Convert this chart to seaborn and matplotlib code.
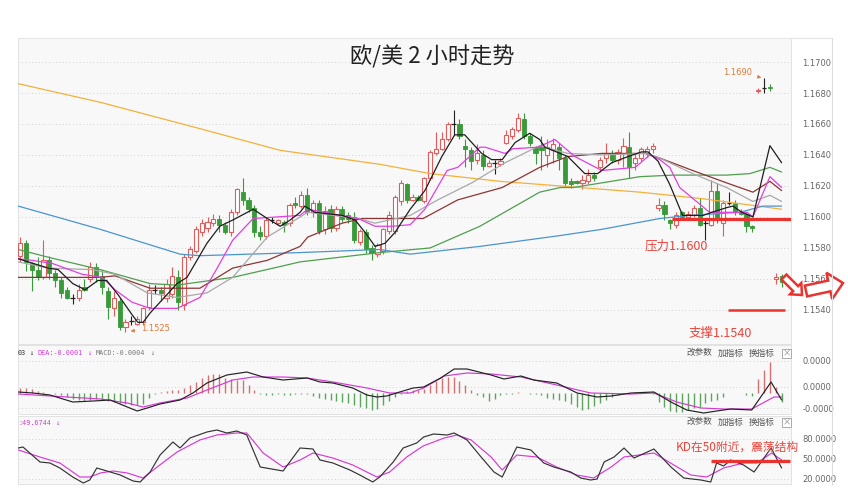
import numpy as np
import pandas as pd
import matplotlib
matplotlib.use("Agg")
import matplotlib.pyplot as plt
from matplotlib.patches import FancyArrow, Rectangle
import seaborn as sns

sns.set_theme(style="white")
plt.rcParams['font.family'] = ['Noto Sans CJK SC', 'DejaVu Sans']
plt.rcParams['axes.unicode_minus'] = False

# ---- candles (2h EUR/USD) ----
opens = [1.1575, 1.1583, 1.1570, 1.1566, 1.1561, 1.1572, 1.1564, 1.1559, 1.1553, 1.1548,
         1.1548, 1.1555, 1.1560, 1.1568, 1.1562, 1.1552, 1.1541, 1.1546, 1.1529, 1.1533,
         1.1531, 1.1532, 1.1542, 1.1553, 1.1553, 1.1548, 1.1550, 1.1561, 1.1543, 1.1574,
         1.1578, 1.1590, 1.1593, 1.1596, 1.1599, 1.1595, 1.1590, 1.1603, 1.1616, 1.1611,
         1.1606, 1.1590, 1.1588, 1.1598, 1.1596, 1.1597, 1.1596, 1.1609, 1.1607, 1.1614,
         1.1603, 1.1609, 1.1592, 1.1605, 1.1593, 1.1605, 1.1601, 1.1600, 1.1584, 1.1590,
         1.1580, 1.1576, 1.1578, 1.1591, 1.1591, 1.1610, 1.1621, 1.1611, 1.1613, 1.1610,
         1.1625, 1.1641, 1.1644, 1.1650, 1.1660, 1.1660, 1.1646, 1.1643, 1.1637, 1.1640,
         1.1633, 1.1635, 1.1634, 1.1648, 1.1652, 1.1656, 1.1663, 1.1652, 1.1645, 1.1645,
         1.1640, 1.1643, 1.1645, 1.1638, 1.1623, 1.1623, 1.1622, 1.1623, 1.1627, 1.1632,
         1.1638, 1.1641, 1.1637, 1.1641, 1.1645, 1.1635, 1.1638, 1.1641, 1.1644, 1.1606,
         1.1608, 1.1598, 1.1595, 1.1603, 1.1600, 1.1601, 1.1606, 1.1596, 1.1595, 1.1617,
         1.1596, 1.1609, 1.1609, 1.1603, 1.1602, 1.1594, 1.1681, 1.1683, 1.1684, 1.1560,
         1.1562]
closes = [1.1583, 1.1571, 1.1566, 1.1561, 1.1572, 1.1564, 1.1559, 1.1551, 1.1548, 1.1548,
          1.1553, 1.1553, 1.1568, 1.1562, 1.1555, 1.1542, 1.1548, 1.1529, 1.1532, 1.1533,
          1.1534, 1.1541, 1.1553, 1.1553, 1.1551, 1.1557, 1.1562, 1.1545, 1.1574, 1.1579,
          1.1592, 1.1596, 1.1597, 1.1599, 1.1595, 1.1590, 1.1603, 1.1618, 1.1611, 1.1605,
          1.1590, 1.1588, 1.1598, 1.1598, 1.1598, 1.1595, 1.1608, 1.1608, 1.1614, 1.1603,
          1.1609, 1.1591, 1.1604, 1.1593, 1.1605, 1.1599, 1.1599, 1.1585, 1.1591, 1.1579,
          1.1577, 1.1582, 1.1592, 1.1601, 1.1613, 1.1622, 1.1611, 1.1613, 1.1611, 1.1625,
          1.1642, 1.1644, 1.1650, 1.1660, 1.1660, 1.1652, 1.1644, 1.1636, 1.1641, 1.1633,
          1.1635, 1.1635, 1.1636, 1.1653, 1.1657, 1.1664, 1.1652, 1.1648, 1.1641, 1.1643,
          1.1645, 1.1647, 1.1638, 1.1622, 1.1621, 1.1622, 1.1624, 1.1627, 1.1625, 1.1637,
          1.1641, 1.1637, 1.1642, 1.1646, 1.1632, 1.1638, 1.1644, 1.1644, 1.1646, 1.1608,
          1.1602, 1.1596, 1.1601, 1.1600, 1.1602, 1.1606, 1.1595, 1.1596, 1.1617, 1.1598,
          1.1609, 1.1609, 1.1603, 1.1602, 1.1594, 1.1593, 1.1682, 1.1683, 1.1683, 1.1561,
          1.1558]
highs = [1.1587, 1.1585, 1.1571, 1.1574, 1.1585, 1.1575, 1.1566, 1.1561, 1.1555, 1.1550,
         1.1557, 1.1560, 1.1571, 1.1570, 1.1565, 1.1555, 1.1552, 1.1548, 1.1534, 1.1536,
         1.1536, 1.1542, 1.1557, 1.1556, 1.1555, 1.1560, 1.1568, 1.1566, 1.1576, 1.1581,
         1.1594, 1.1599, 1.1600, 1.1602, 1.1601, 1.1597, 1.1605, 1.1619, 1.1625, 1.1613,
         1.1608, 1.1594, 1.1600, 1.1600, 1.1599, 1.1598, 1.1609, 1.1613, 1.1617, 1.1619,
         1.1611, 1.1611, 1.1607, 1.1608, 1.1607, 1.1607, 1.1603, 1.1603, 1.1592, 1.1592,
         1.1582, 1.1583, 1.1593, 1.1604, 1.1614, 1.1624, 1.1622, 1.1615, 1.1614, 1.1626,
         1.1643, 1.1655, 1.1655, 1.1661, 1.1669, 1.1663, 1.1650, 1.1645, 1.1647, 1.1643,
         1.1637, 1.1637, 1.1638, 1.1656, 1.1658, 1.1667, 1.1667, 1.1654, 1.1646, 1.1652,
         1.1650, 1.1651, 1.1648, 1.1640, 1.1625, 1.1624, 1.1627, 1.1631, 1.1629, 1.1639,
         1.1648, 1.1643, 1.1644, 1.1651, 1.1655, 1.1641, 1.1645, 1.1646, 1.1648, 1.1612,
         1.1610, 1.1599, 1.1603, 1.1604, 1.1604, 1.1608, 1.1612, 1.1598, 1.1624, 1.1622,
         1.1611, 1.1616, 1.1611, 1.1605, 1.1603, 1.1595, 1.1683, 1.1690, 1.1686, 1.1564,
         1.1563]
lows = [1.1571, 1.1565, 1.1552, 1.1559, 1.1560, 1.1560, 1.1555, 1.1548, 1.1547, 1.1544,
        1.1546, 1.1552, 1.1558, 1.1558, 1.1550, 1.1534, 1.1536, 1.1527, 1.1526, 1.1530,
        1.1530, 1.1530, 1.1540, 1.1550, 1.1546, 1.1545, 1.1548, 1.1540, 1.1540, 1.1572,
        1.1577, 1.1588, 1.1590, 1.1594, 1.1590, 1.1589, 1.1588, 1.1601, 1.1608, 1.1603,
        1.1587, 1.1585, 1.1586, 1.1596, 1.1595, 1.1590, 1.1594, 1.1606, 1.1606, 1.1601,
        1.1600, 1.1589, 1.1589, 1.1590, 1.1591, 1.1597, 1.1596, 1.1583, 1.1582, 1.1577,
        1.1572, 1.1574, 1.1576, 1.1589, 1.1589, 1.1608, 1.1609, 1.1610, 1.1610, 1.1609,
        1.1624, 1.1640, 1.1643, 1.1649, 1.1653, 1.1650, 1.1632, 1.1630, 1.1634, 1.1630,
        1.1632, 1.1628, 1.1633, 1.1647, 1.1650, 1.1655, 1.1650, 1.1646, 1.1634, 1.1630,
        1.1632, 1.1635, 1.1630, 1.1620, 1.1619, 1.1621, 1.1618, 1.1621, 1.1623, 1.1629,
        1.1635, 1.1635, 1.1634, 1.1632, 1.1625, 1.1630, 1.1636, 1.1639, 1.1641, 1.1604,
        1.1598, 1.1592, 1.1593, 1.1598, 1.1598, 1.1600, 1.1594, 1.1585, 1.1594, 1.1596,
        1.1588, 1.1608, 1.1601, 1.1601, 1.1590, 1.1590, 1.1680, 1.1680, 1.1681, 1.1557,
        1.1555]

# ---- moving averages (knots, bar index -> price) ----
ma5_idx = [-0.3, 4.8, 6.5, 9.0, 11.1, 13.3, 14.8, 16.7, 19.1, 20.1, 21.0, 22.2, 26.8, 28.5,
           31.9, 34.1, 36.3, 39.8, 42.2, 44.4, 46.1, 47.8, 48.6, 50.3, 55.0, 57.2, 58.9,
           60.6, 62.3, 64.0, 66.6, 69.1, 72.0, 74.2, 75.9, 78.8, 80.5, 82.3, 84.5, 87.0,
           88.7, 89.6, 93.5, 96.4, 98.6, 101.0, 103.8, 106.1, 107.2, 108.9, 110.9, 113.1,
           116.6, 118.1, 120.6, 121.7, 123.2, 125.1, 128.0, 130.0]
ma5_val = [1.1573, 1.1567, 1.1566, 1.1557, 1.1553, 1.1559, 1.1559, 1.1550, 1.1537, 1.1532,
           1.1532, 1.1538, 1.1557, 1.1561, 1.1583, 1.1594, 1.1598, 1.1605, 1.1599, 1.1594,
           1.1598, 1.1603, 1.1607, 1.1603, 1.1601, 1.1598, 1.1590, 1.1581, 1.1583, 1.1590,
           1.1605, 1.1617, 1.1639, 1.1653, 1.1653, 1.1641, 1.1637, 1.1637, 1.1648, 1.1654,
           1.1650, 1.1645, 1.1639, 1.1628, 1.1628, 1.1635, 1.1639, 1.1642, 1.1642, 1.1636,
           1.1621, 1.1601, 1.1601, 1.1603, 1.1606, 1.1607, 1.1603, 1.1600, 1.1646, 1.1635]
ma10_idx = [-0.3, 2.0, 5.5, 10.6, 14.0, 16.2, 19.1, 22.2, 26.8, 30.7, 33.5, 36.3, 39.8, 47.8,
            49.1, 57.7, 60.6, 63.5, 66.6, 69.1, 72.9, 74.7, 78.5, 79.4, 82.8, 84.1, 88.4,
            91.3, 94.7, 99.3, 105.0, 107.5, 109.2, 110.9, 112.6, 117.7, 124.1, 125.1, 128.0,
            130.0]
ma10_val = [1.1573, 1.1572, 1.1570, 1.1563, 1.1561, 1.1553, 1.1545, 1.1541, 1.1541, 1.1548,
            1.1566, 1.1585, 1.1599, 1.1601, 1.1605, 1.1599, 1.1594, 1.1594, 1.1595, 1.1605,
            1.1630, 1.1632, 1.1645, 1.1645, 1.1641, 1.1644, 1.1645, 1.1650, 1.1639, 1.1630,
            1.1632, 1.1640, 1.1637, 1.1632, 1.1619, 1.1603, 1.1603, 1.1600, 1.1626, 1.1619]
ma20_idx = [-0.3, 4.8, 12.3, 16.2, 21.7, 26.8, 31.9, 36.3, 42.2, 47.8, 49.1, 57.7, 60.6, 66.6,
            71.3, 77.1, 82.8, 88.7, 93.5, 99.3, 106.7, 109.2, 110.9, 114.8, 120.6, 125.1,
            128.0, 130.0]
ma20_val = [1.1571, 1.1567, 1.1566, 1.1563, 1.1551, 1.1548, 1.1551, 1.1561, 1.1587, 1.1600,
            1.1603, 1.1599, 1.1596, 1.1601, 1.1611, 1.1622, 1.1635, 1.1646, 1.1641, 1.1640,
            1.1641, 1.1638, 1.1635, 1.1628, 1.1619, 1.1610, 1.1614, 1.1610]
ma30_idx = [-0.3, 13.7, 16.2, 22.2, 27.3, 30.7, 36.3, 42.2, 47.8, 49.1, 55.0, 58.4, 68.8,
            74.7, 82.3, 88.7, 93.5, 99.3, 106.7, 109.2, 114.8, 120.6, 125.1, 128.0, 130.0]
ma30_val = [1.1561, 1.1561, 1.1562, 1.1554, 1.1554, 1.1554, 1.1567, 1.1572, 1.1581, 1.1587,
            1.1596, 1.1599, 1.1599, 1.1611, 1.1619, 1.1632, 1.1639, 1.1641, 1.1641, 1.1638,
            1.1630, 1.1622, 1.1616, 1.1623, 1.1617]
ma60_idx = [-0.3, 4.8, 13.7, 22.2, 26.8, 36.3, 44.4, 47.8, 61.4, 70.0, 78.5, 88.7, 92.2,
            94.4, 105.8, 111.4, 120.6, 124.6, 126.3, 128.0, 130.0]
ma60_val = [1.1579, 1.1574, 1.1566, 1.1557, 1.1556, 1.1561, 1.1568, 1.1571, 1.1577, 1.1580,
            1.1594, 1.1616, 1.1619, 1.1619, 1.1626, 1.1627, 1.1627, 1.1628, 1.1630, 1.1632,
            1.1629]
ma120_idx = [-0.3, 13.7, 22.2, 27.3, 30.7, 47.8, 61.4, 66.6, 78.5, 92.2, 99.3, 109.2, 114.3,
             122.9, 126.8, 130.0]
ma120_val = [1.1607, 1.1592, 1.1582, 1.1576, 1.1575, 1.1577, 1.1579, 1.1576, 1.1581, 1.1588,
             1.1592, 1.1599, 1.1601, 1.1603, 1.1607, 1.1607]
ma250_idx = [-0.3, 13.7, 30.7, 44.4, 61.4, 70.0, 81.9, 92.2, 105.8, 116.0, 130.0]
ma250_val = [1.1686, 1.1674, 1.1657, 1.1643, 1.1634, 1.1628, 1.1623, 1.1620, 1.1616, 1.1612,
             1.1605]

# ---- MACD (units of 1e-5) ----
macd_hist = [0.5, 0.5, 0.4, 0.2, 0.1, 0.05, -0.1, -0.2, -0.4, -0.6,
             -0.7, -0.8, -0.7, -0.6, -0.6, -0.8, -0.9, -1.0, -1.1, -1.2,
             -1.2, -1.1, -0.5, -0.1, 0.1, 0.2, 0.3, 0.3, 0.5, 0.8,
             1.1, 1.5, 1.8, 1.9, 1.9, 1.5, 1.4, 1.3, 1.3, 0.8,
             0.3, -0.1, -0.2, -0.2, -0.1, -0.2, -0.2, -0.1, -0.05, -0.1,
             -0.3, -0.5, -0.6, -0.7, -0.8, -0.9, -1.0, -1.2, -1.4, -1.5,
             -1.7, -1.6, -1.2, -0.8, -0.4, -0.1, 0.2, 0.3, 0.3, 0.4,
             0.8, 1.2, 1.5, 1.6, 1.6, 1.2, 0.8, 0.3, -0.2, -0.4,
             -0.8, -0.6, -0.2, -0.1, -0.05, 0.1, 0.05, -0.1, -0.1, -0.2,
             -0.5, -0.6, -0.7, -0.8, -1.1, -1.4, -1.7, -1.6, -1.3, -1.0,
             -0.7, -0.4, -0.2, -0.1, -0.05, 0.1, 0.05, 0.0, -0.05, -0.9,
             -1.4, -1.8, -1.9, -1.9, -1.7, -1.5, -1.4, -1.0, -0.8, -0.7,
             -0.4, 0.0, 0.0, 0.0, -0.2, -0.3, 1.4, 2.3, 3.1, 0.6,
             -0.9]
dif_idx = [-0.3, 2.2, 5.1, 9.0, 12.5, 15.4, 18.3, 20.0, 21.7, 23.9, 27.3, 29.5, 31.9, 35.3,
           38.7, 41.5, 44.9, 49.0, 51.2, 53.4, 56.8, 59.2, 60.9, 62.6, 64.8, 67.1, 68.9,
           71.8, 74.1, 76.3, 80.4, 82.6, 85.5, 87.7, 91.6, 95.1, 98.5, 100.9, 104.3, 108.2,
           111.1, 113.8, 116.7, 118.9, 121.3, 124.9, 128.2, 130.0]
dif_val = [0.1, 0.0, -0.2, -0.9, -0.8, -0.7, -1.4, -1.8, -1.5, -1.1, -0.7, 0.0, 1.0, 1.8,
           2.1, 1.6, 1.3, 1.5, 1.1, 1.0, 0.5, -0.2, -0.4, -0.3, 0.1, 0.5, 0.6,
           1.5, 2.4, 2.4, 1.8, 1.4, 1.7, 1.3, 1.0, 0.0, -0.4, -0.3, 0.0, 0.1,
           -0.9, -1.7, -2.0, -1.8, -1.6, -1.7, 1.1, -0.7]
dea_idx = [-0.3, 8.0, 13.7, 18.3, 21.0, 23.9, 28.5, 31.9, 36.3, 39.8, 44.9, 49.0, 53.4, 59.2,
           63.1, 66.6, 68.9, 72.4, 76.3, 80.4, 85.5, 91.6, 97.4, 104.3, 108.2, 112.1, 116.2,
           120.1, 124.9, 128.7, 130.0]
dea_val = [-0.1, -0.4, -0.6, -1.0, -1.4, -1.0, -0.5, 0.3, 1.3, 1.6, 1.6, 1.5, 1.1, 0.5,
           0.0, 0.0, 0.5, 1.7, 2.0, 1.9, 1.6, 0.8, 0.0, -0.1, 0.0, -0.9, -1.5,
           -1.6, -1.6, -0.4, -0.4]
macd_ticks = [3.2, 0.6, -1.5]
macd_ticklabels = ["0.0000", "0.0000", "-0.0000"]

# ---- KD ----
k_idx = [-0.3, 0.5, 3.4, 5.1, 6.8, 9.0, 10.8, 11.9, 13.1, 15.4, 17.1, 19.3, 20.5, 22.2, 23.9,
         26.1, 27.3, 29.0, 31.9, 33.6, 35.3, 37.0, 38.7, 41.0, 44.9, 47.8, 50.0, 51.2, 53.4,
         56.3, 58.0, 60.2, 61.4, 63.7, 65.4, 67.7, 68.9, 70.6, 72.9, 74.1, 76.3, 78.7, 80.9,
         82.3, 84.8, 87.2, 89.4, 91.1, 94.0, 95.7, 97.4, 98.5, 99.7, 101.4, 103.1, 104.8,
         108.2, 111.1, 113.3, 116.2, 117.9, 118.9, 120.1, 121.3, 123.5, 125.3, 128.2, 130.0]
k_val = [66.5, 68, 45.5, 44, 36.5, 23, 14, 18.5, 36.5, 30.5, 26, 17, 15.5, 30.5, 56,
         75.5, 66.5, 81.5, 90.5, 93.5, 89, 92, 86, 38, 32, 66.5, 65, 48.5, 44,
         33.5, 26, 15.5, 23, 45.5, 66.5, 74, 83, 87.5, 86, 89, 78.5, 53, 30.5,
         23, 68, 63.5, 44, 38, 30.5, 21.5, 18.5, 20, 45.5, 53, 66.5, 51.5,
         65, 38, 21.5, 18.5, 15.5, 44, 39.5, 48.5, 41, 30.5, 66.5, 36.5]
d_idx = [-0.3, 3.4, 6.8, 10.2, 11.9, 13.7, 15.9, 18.3, 21.0, 23.4, 26.8, 30.7, 33.6, 37.0,
         38.7, 41.5, 44.9, 47.8, 50.0, 53.4, 56.8, 60.9, 63.1, 66.0, 68.8, 72.4, 74.6, 77.0,
         80.4, 82.3, 84.8, 88.2, 91.6, 95.0, 97.9, 100.9, 103.1, 108.2, 111.6, 114.5, 117.2,
         120.1, 123.5, 125.8, 128.3, 130.0]
d_val = [63.5, 53, 44, 23, 23, 29, 32, 29, 21.5, 38, 60.5, 78.5, 86, 89,
         89, 59, 38, 48.5, 59, 51.5, 41, 23, 30.5, 53, 69.5, 81.5, 86, 78.5,
         53, 33.5, 56, 53, 38, 26, 21.5, 38, 53, 59, 41, 26, 23,
         36.5, 44, 44, 59, 48.5]
kd_ticks = [80, 50, 20]

RED = '#e25c5c'
GREEN = '#399a39'
BG = '#f8f8f8'
GRID = '#d2d2d2'
ANNO = '#e8453c'
ma_colors = {'MA5': '#1e1e1e', 'MA10': '#e040e0', 'MA20': '#a9a9a9', 'MA30': '#8e3434',
             'MA60': '#4f9f4f', 'MA120': '#4a95cf', 'MA250': '#f3b13a'}

W, H = 848, 495
fig = plt.figure(figsize=(W / 100, H / 100), dpi=100)
fig.patch.set_facecolor('white')


def box(x0, y0, x1, y1):
    return [x0 / W, 1 - y1 / H, (x1 - x0) / W, (y1 - y0) / H]


ax = fig.add_axes(box(18, 38, 791, 344))
ax_macd = fig.add_axes(box(18, 345, 791, 414))
ax_kd = fig.add_axes(box(18, 416, 791, 484))

for a in (ax, ax_macd, ax_kd):
    a.set_facecolor(BG)
    for s in a.spines.values():
        s.set_color('#e2e2e2')
        s.set_linewidth(0.7)
    a.set_xlim(-0.35, 131.6)
    a.set_xticks([])
    a.yaxis.tick_right()
    a.tick_params(axis='y', length=0, pad=8, labelsize=6, labelcolor='#666666')
    a.grid(axis='y', linestyle=(0, (1, 2.5)), color=GRID, linewidth=0.7)

# ---- main candle panel ----
o = np.array(opens)
c = np.array(closes)
hi = np.array(highs)
lo = np.array(lows)
idx = np.arange(len(o))
doji = np.isclose(o, c)
up = (c > o) & ~doji
dn = (c < o) & ~doji
wick_col = np.where(up, RED, np.where(dn, GREEN, '#222222'))
ax.vlines(idx, lo, hi, colors=wick_col, linewidth=0.8, zorder=2)
ax.bar(idx[up], (c - o)[up], bottom=o[up], width=0.72, facecolor='white',
       edgecolor=RED, linewidth=0.8, zorder=3)
ax.bar(idx[dn], (o - c)[dn], bottom=c[dn], width=0.72, facecolor=GREEN,
       edgecolor=GREEN, linewidth=0.6, zorder=3)
ax.hlines(c[doji], idx[doji] - 0.4, idx[doji] + 0.4, color='#222222', linewidth=0.9, zorder=3)

ma_df = pd.concat([
    pd.DataFrame({'idx': ma250_idx, 'val': ma250_val, 'ma': 'MA250'}),
    pd.DataFrame({'idx': ma120_idx, 'val': ma120_val, 'ma': 'MA120'}),
    pd.DataFrame({'idx': ma60_idx, 'val': ma60_val, 'ma': 'MA60'}),
    pd.DataFrame({'idx': ma30_idx, 'val': ma30_val, 'ma': 'MA30'}),
    pd.DataFrame({'idx': ma20_idx, 'val': ma20_val, 'ma': 'MA20'}),
    pd.DataFrame({'idx': ma10_idx, 'val': ma10_val, 'ma': 'MA10'}),
    pd.DataFrame({'idx': ma5_idx, 'val': ma5_val, 'ma': 'MA5'}),
], ignore_index=True)
sns.lineplot(data=ma_df, x='idx', y='val', hue='ma', palette=ma_colors, estimator=None,
             legend=False, linewidth=0.9, ax=ax, zorder=4)

price_ticks = np.round(np.arange(1.154, 1.1701, 0.002), 4)
ax.set_ylim(1.1518, 1.17155)
ax.set_yticks(price_ticks)
ax.set_yticklabels([f"{v:.4f}" for v in price_ticks], family='DejaVu Sans')
ax.set_xlabel('')
ax.set_ylabel('')

# resistance / support
ax.hlines(1.1599, 111.3, 131.6, color='#e8332f', linewidth=2.3, zorder=5)
ax.hlines(1.1540, 120.8, 130.5, color='#e8332f', linewidth=1.8, zorder=5)
ax.text(112.0, 1.15815, '压力1.1600', color=ANNO, fontsize=9, ha='center', va='center', zorder=6)
ax.text(119.6, 1.15250, '支撑1.1540', color=ANNO, fontsize=9, ha='center', va='center', zorder=6)

ax.annotate('1.1525', xy=(18.4, 1.15262), xytext=(20.6, 1.15278), color='#e07b39',
            fontsize=6, family='DejaVu Sans', ha='left', va='center',
            arrowprops=dict(arrowstyle='-|>', color='#e07b39', lw=0.6, mutation_scale=5))
ax.annotate('1.1690', xy=(127.0, 1.16895), xytext=(125.0, 1.16935), color='#e07b39',
            fontsize=6, family='DejaVu Sans', ha='right', va='center',
            arrowprops=dict(arrowstyle='-|>', color='#e07b39', lw=0.6, mutation_scale=5))

# ---- MACD panel ----
hist = np.array(macd_hist)
ax_macd.vlines(idx, 0, hist, colors=np.where(hist >= 0, '#d77070', '#5ea35e'),
               linewidth=1.0, zorder=2)
macd_df = pd.concat([
    pd.DataFrame({'idx': dea_idx, 'val': dea_val, 'line': 'DEA'}),
    pd.DataFrame({'idx': dif_idx, 'val': dif_val, 'line': 'DIF'}),
], ignore_index=True)
sns.lineplot(data=macd_df, x='idx', y='val', hue='line',
             palette={'DIF': '#222222', 'DEA': '#d33ad3'}, estimator=None,
             legend=False, linewidth=0.85, ax=ax_macd, zorder=3)
ax_macd.set_ylim(-2.1, 4.8)
ax_macd.set_yticks(macd_ticks)
ax_macd.set_yticklabels(macd_ticklabels, family='DejaVu Sans')
ax_macd.set_xlabel('')
ax_macd.set_ylabel('')

# ---- KD panel ----
kd_df = pd.concat([
    pd.DataFrame({'idx': d_idx, 'val': d_val, 'line': 'D'}),
    pd.DataFrame({'idx': k_idx, 'val': k_val, 'line': 'K'}),
], ignore_index=True)
sns.lineplot(data=kd_df, x='idx', y='val', hue='line',
             palette={'K': '#333333', 'D': '#d83ad8'}, estimator=None,
             legend=False, linewidth=0.85, ax=ax_kd, zorder=3)
ax_kd.set_ylim(12.5, 114.5)
ax_kd.set_yticks(kd_ticks)
ax_kd.set_yticklabels([f"{v:.4f}" for v in kd_ticks], family='DejaVu Sans')
ax_kd.set_xlabel('')
ax_kd.set_ylabel('')
ax_kd.hlines(47, 118.0, 131.4, color='#e8332f', linewidth=2.3, zorder=5)
ax_kd.text(111.9, 68, 'KD在50附近，震荡结构', color=ANNO, fontsize=8.5,
           ha='left', va='center', zorder=6)

# ---- overlay: title, headers, widgets, arrows ----
ov = fig.add_axes([0, 0, 1, 1], zorder=10)
ov.set_xlim(0, W)
ov.set_ylim(H, 0)
ov.axis('off')
ov.patch.set_alpha(0)

ov.plot([18, 832], [38, 38], color='#e6e6e6', lw=0.8)
ov.plot([832, 832], [38, 485], color='#dddddd', lw=0.8)

ov.text(432, 57, '欧/美 2 小时走势', fontsize=16, color='#222222', ha='center', va='center')

mono = 'DejaVu Sans Mono'
for x, s, col in [(18, '03', '#333333'), (29, '↓', '#333333'),
                  (38, 'DEA:-0.0001', '#d33ad3'), (87, '↓', '#d33ad3'),
                  (96, 'MACD:-0.0004', '#777777'), (150, '↓', '#777777')]:
    ov.text(x, 353, s, fontsize=4.9, color=col, family=mono, ha='left', va='center')
ov.text(18, 423, ':49.6744', fontsize=4.9, color='#d33ad3', family=mono, ha='left', va='center')
ov.text(55, 423, '↓', fontsize=4.9, color='#d33ad3', family=mono, ha='left', va='center')

for yy in (353, 422):
    for x, s in [(687, '改参数'), (718, '加指标'), (749, '换指标')]:
        ov.text(x, yy, s, fontsize=6.2, color='#555555', ha='left', va='center')
    ov.add_patch(Rectangle((782, yy - 4.5), 9, 9, fill=True, fc='white', ec='#aaaaaa', lw=0.7))
    ov.text(786.5, yy, '×', fontsize=6, color='#888888', ha='center', va='center')

ov.add_patch(FancyArrow(784, 277, 18, 18, width=7, head_width=16, head_length=9,
                        length_includes_head=True, fc='white', ec='#e8332f', lw=1.8))
ov.add_patch(FancyArrow(806, 291, 37, -8, width=11, head_width=27, head_length=14,
                        length_includes_head=True, fc='white', ec='#e8332f', lw=1.8))

fig.savefig('out.png', dpi=100)
